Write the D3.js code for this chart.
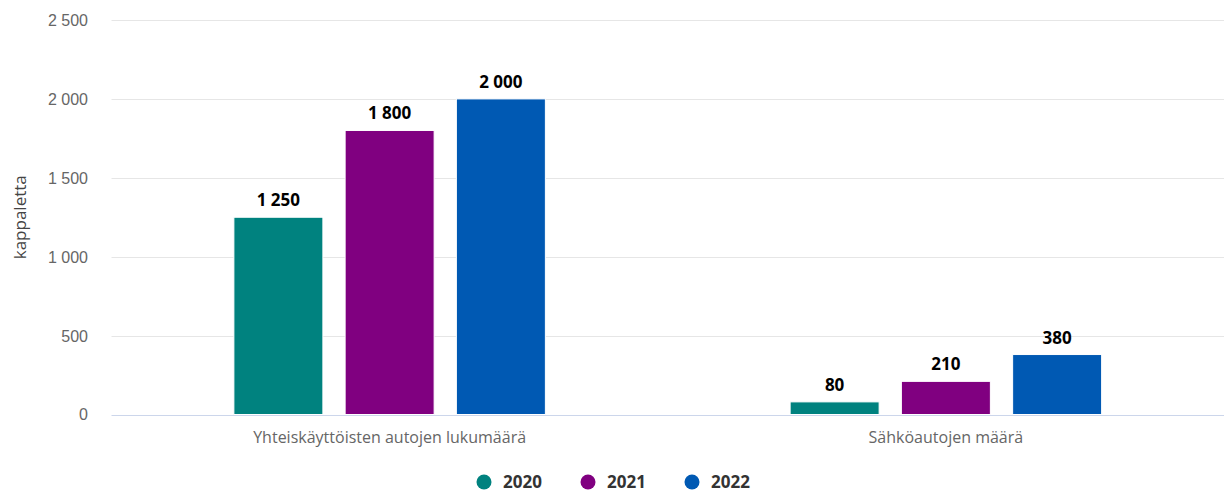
<!DOCTYPE html>
<html>
<head>
<meta charset="utf-8">
<script src="https://cdn.jsdelivr.net/npm/d3@7"></script>
<style>
  html, body { margin: 0; padding: 0; background: #fff; }
  svg { display: block; font-family: "Open Sans", "Noto Sans", sans-serif; }
</style>
</head>
<body>
<svg id="chart" width="1225" height="493"></svg>
<script>
// Categories, series and axis ticks
const categories = ["Yhteiskäyttöisten autojen lukumäärä", "Sähköautojen määrä"];
const years = ["2020", "2021", "2022"];
const values2020 = [1250, 80];
const values2021 = [1800, 210];
const values2022 = [2000, 380];
const yTicks = [0, 500, 1000, 1500, 2000, 2500];
const seriesColors = ["#00827f", "#800080", "#0059b3"];
const yTitle = "kappaletta";

const series = [values2020, values2021, values2022];

const svg = d3.select("#chart");
const plotL = 111.5, plotR = 1224;
const plotT = 20, plotB = 414.5;

const fmt = v => d3.format(",")(v).replace(/,/g, "\u00a0");

const x0 = d3.scaleBand().domain(categories).range([plotL, plotR]);
const inner = d3.scaleBand().domain(years)
  .range([x0.bandwidth() * 0.2, x0.bandwidth() * 0.8])
  .paddingInner(0.2).paddingOuter(0.1);
const y = d3.scaleLinear().domain([0, 2500]).range([plotB, plotT]);

// Gridlines
svg.append("g")
  .selectAll("line").data(yTicks.filter(t => t > 0)).join("line")
  .attr("x1", plotL).attr("x2", plotR)
  .attr("y1", d => Math.round(y(d)) + 0.5).attr("y2", d => Math.round(y(d)) + 0.5)
  .attr("stroke", "#e6e6e6").attr("stroke-width", 1);

// Y axis labels
const yAxis = d3.axisLeft(y).tickValues(yTicks).tickFormat(fmt).tickSize(0).tickPadding(0);
const yg = svg.append("g").attr("transform", "translate(88,0)").call(yAxis);
yg.select(".domain").remove();
yg.selectAll("text")
  .attr("fill", "#666666").style("font-size", "16px")
  .attr("dy", "0.34em");

// Y axis title
svg.append("text")
  .attr("transform", `translate(26,${(plotT + plotB) / 2}) rotate(-90)`)
  .attr("text-anchor", "middle")
  .attr("fill", "#444")
  .style("font-size", "17px")
  .text(yTitle);

// Bars with value labels
const groups = svg.append("g").selectAll("g").data(categories).join("g")
  .attr("transform", d => `translate(${x0(d)},0)`);

groups.each(function (cat, ci) {
  const g = d3.select(this);
  years.forEach((yr, si) => {
    const v = series[si][ci];
    g.append("rect")
      .attr("x", inner(yr))
      .attr("y", y(v))
      .attr("width", inner.bandwidth())
      .attr("height", plotB - y(v))
      .attr("fill", seriesColors[si])
      .attr("stroke", "#ffffff").attr("stroke-width", 1);
    g.append("text")
      .attr("x", inner(yr) + inner.bandwidth() / 2)
      .attr("y", y(v) - 11)
      .attr("text-anchor", "middle")
      .attr("fill", "#000")
      .style("font-size", "17px").style("font-weight", "bold")
      .text(fmt(v));
  });
});

// X axis line and category labels
svg.append("line")
  .attr("x1", plotL).attr("x2", plotR)
  .attr("y1", Math.round(plotB) + 0.5).attr("y2", Math.round(plotB) + 0.5)
  .attr("stroke", "#ccd6eb").attr("stroke-width", 1);

svg.append("g").selectAll("text").data(categories).join("text")
  .attr("x", d => x0(d) + x0.bandwidth() / 2)
  .attr("y", 443)
  .attr("text-anchor", "middle")
  .attr("fill", "#666666")
  .style("font-size", "16px")
  .text(d => d);

// Legend
const legend = svg.append("g").attr("transform", "translate(484,482)");
years.forEach((yr, i) => {
  const lg = legend.append("g").attr("transform", `translate(${i * 104},0)`);
  lg.append("circle").attr("r", 7.5).attr("fill", seriesColors[i]);
  lg.append("text").attr("x", 19).attr("y", 5.5)
    .attr("fill", "#333333")
    .style("font-size", "17px").style("font-weight", "bold")
    .text(yr);
});
</script>
</body>
</html>
